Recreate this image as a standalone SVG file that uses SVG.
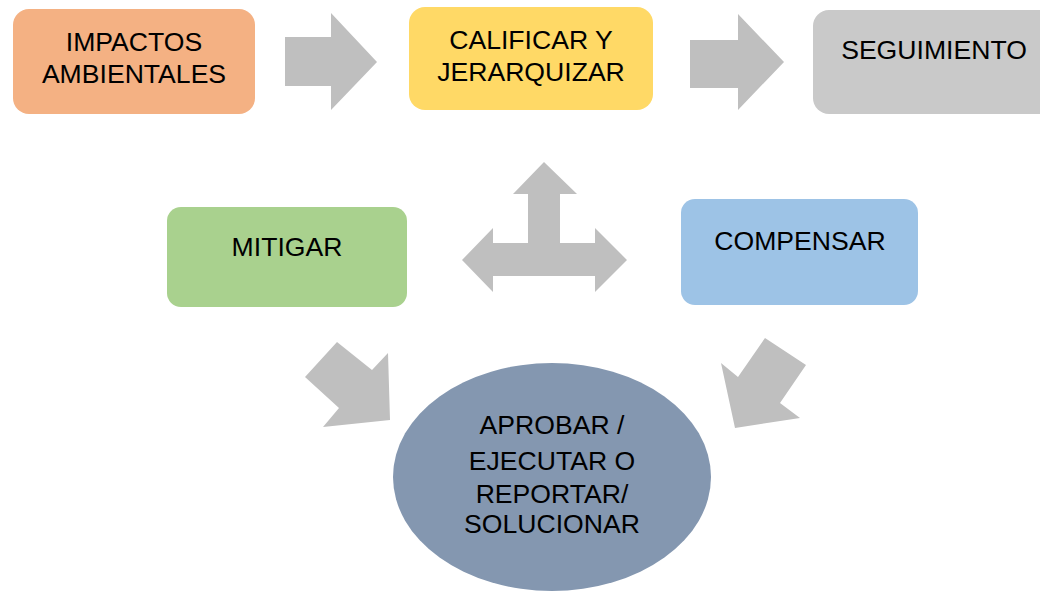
<svg xmlns="http://www.w3.org/2000/svg" width="1040" height="591" viewBox="0 0 1040 591">
<style>
.t{font-family:"Liberation Sans",Arial,sans-serif;font-size:26.6px;fill:#000;text-anchor:middle}
.arr{fill:#BFBFBF}
</style>
<rect width="1040" height="591" fill="#fff"/>
<g id="connectors">
<polygon class="arr" points="285,37 331,37 331,13 377,62 331,110 331,86 285,86"/>
<polygon class="arr" points="690,40 738,40 738,14 784,62 738,110 738,88 690,88"/>
<polygon class="arr" points="544,162 577,194 560,194 560,243 595,243 595,228 627,260 595,292 595,276 493,276 493,292 462,260 493,228 493,243 528,243 528,194 513,194"/>
<polygon class="arr" points="337,342 305,377 339,408 323,427 390,420 388,353 372,370"/>
<polygon class="arr" points="765,338 806,365 780,403 800,418 735,428 721,363 738,377"/>
</g>
<g id="impactos">
<rect x="13" y="9" width="242" height="105" rx="16" fill="#F4B183"/>
<text class="t" x="134" y="51">IMPACTOS</text>
<text class="t" x="134" y="83">AMBIENTALES</text>
</g>
<g id="calificar">
<rect x="409" y="7" width="244" height="103" rx="16" fill="#FFD966"/>
<text class="t" x="531" y="49">CALIFICAR Y</text>
<text class="t" x="531" y="81">JERARQUIZAR</text>
</g>
<g id="seguimiento">
<rect x="813" y="10" width="250" height="104" rx="16" fill="#C9C9C9"/>
<text class="t" x="934" y="59">SEGUIMIENTO</text>
</g>
<g id="mitigar">
<rect x="167" y="207" width="240" height="100" rx="14" fill="#A9D18E"/>
<text class="t" x="287" y="256">MITIGAR</text>
</g>
<g id="compensar">
<rect x="681" y="199" width="237" height="106" rx="14" fill="#9DC3E6"/>
<text class="t" x="800" y="250">COMPENSAR</text>
</g>
<g id="aprobar">
<ellipse cx="552" cy="477" rx="159" ry="114" fill="#8497B0"/>
<text class="t" x="552" y="434">APROBAR /</text>
<text class="t" x="552" y="470">EJECUTAR O</text>
<text class="t" x="552" y="503">REPORTAR/</text>
<text class="t" x="552" y="533">SOLUCIONAR</text>
</g>
</svg>
